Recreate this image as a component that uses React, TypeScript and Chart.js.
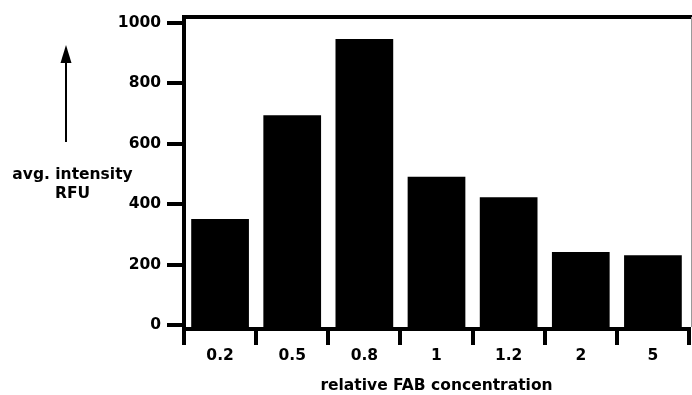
import React, { useEffect, useRef } from 'react';
import { Chart, registerables } from 'chart.js';

Chart.register(...registerables);

const categories = ['0.2', '0.5', '0.8', '1', '1.2', '2', '5'];
const intensity = [351, 694, 946, 491, 423, 242, 231];
const yTicks = [0, 200, 400, 600, 800, 1000];
const xTitle = 'relative FAB concentration';
const yLabelLines = ['avg. intensity', 'RFU'];

const FONT = "'DejaVu Sans', sans-serif";
const FSIZE = 15.5;

export default function App() {
  const ref = useRef<HTMLCanvasElement | null>(null);

  useEffect(() => {
    document.body.style.margin = '0';
    const canvas = ref.current;
    if (!canvas) return;

    const decor = {
      id: 'decor',
      afterDraw(chart: any) {
        const { ctx, chartArea } = chart;
        ctx.save();
        // top frame line
        ctx.strokeStyle = '#000';
        ctx.lineWidth = 4;
        ctx.beginPath();
        ctx.moveTo(chartArea.left - 2, chartArea.top);
        ctx.lineTo(chart.width, chartArea.top);
        ctx.stroke();
        // thin right edge line
        ctx.strokeStyle = '#9a9a9a';
        ctx.lineWidth = 1;
        ctx.beginPath();
        ctx.moveTo(691.5, chartArea.top);
        ctx.lineTo(691.5, chartArea.bottom - 2);
        ctx.stroke();
        // arrow
        ctx.strokeStyle = '#000';
        ctx.lineWidth = 2;
        ctx.beginPath();
        ctx.moveTo(66, 60);
        ctx.lineTo(66, 142);
        ctx.stroke();
        ctx.fillStyle = '#000';
        ctx.beginPath();
        ctx.moveTo(66, 45);
        ctx.lineTo(60.5, 63);
        ctx.lineTo(71.5, 63);
        ctx.closePath();
        ctx.fill();
        // y label
        ctx.font = `bold ${FSIZE}px ${FONT}`;
        ctx.textAlign = 'center';
        ctx.textBaseline = 'alphabetic';
        ctx.fillText(yLabelLines[0], 72.5, 178.5);
        ctx.fillText(yLabelLines[1], 72.5, 198);
        ctx.restore();
      },
    };

    const font = { family: FONT, size: FSIZE, weight: 'bold' as const };

    const chart = new Chart(canvas, {
      type: 'bar',
      data: {
        labels: categories,
        datasets: [
          {
            data: intensity,
            backgroundColor: '#000',
            borderWidth: 0,
            barPercentage: 0.8,
            categoryPercentage: 1,
            base: -7,
          },
        ],
      },
      options: {
        animation: false,
        responsive: false,
        maintainAspectRatio: false,
        devicePixelRatio: 1,
        layout: { padding: { left: 0, right: 3, top: 17, bottom: 0 } },
        plugins: { legend: { display: false }, tooltip: { enabled: false } },
        scales: {
          x: {
            grid: {
              offset: true,
              drawOnChartArea: false,
              drawTicks: true,
              tickLength: 16,
              lineWidth: 4,
              color: '#000',
            },
            border: { display: true, width: 4, color: '#000' },
            ticks: { color: '#000', font, padding: 2, maxRotation: 0, autoSkip: false },
            title: { display: true, text: xTitle, color: '#000', font, padding: 0 },
            afterFit: (s: any) => {
              s.height = 66;
            },
          },
          y: {
            min: -13,
            max: 1019,
            afterBuildTicks: (s: any) => {
              s.ticks = yTicks.map((v) => ({ value: v }));
            },
            grid: {
              drawOnChartArea: false,
              drawTicks: true,
              tickLength: 17,
              lineWidth: 4,
              color: '#000',
            },
            border: { display: true, width: 4, color: '#000' },
            ticks: { color: '#000', font, padding: 6, callback: (v: any) => String(v) },
            afterFit: (s: any) => {
              s.width = 184;
            },
          },
        },
      },
      plugins: [decor],
    });

    return () => chart.destroy();
  }, []);

  return (
    <div style={{ position: 'absolute', left: 0, top: 0, width: 692, height: 395 }}>
      <canvas ref={ref} width={692} height={395} style={{ display: 'block', width: 692, height: 395 }} />
    </div>
  );
}
